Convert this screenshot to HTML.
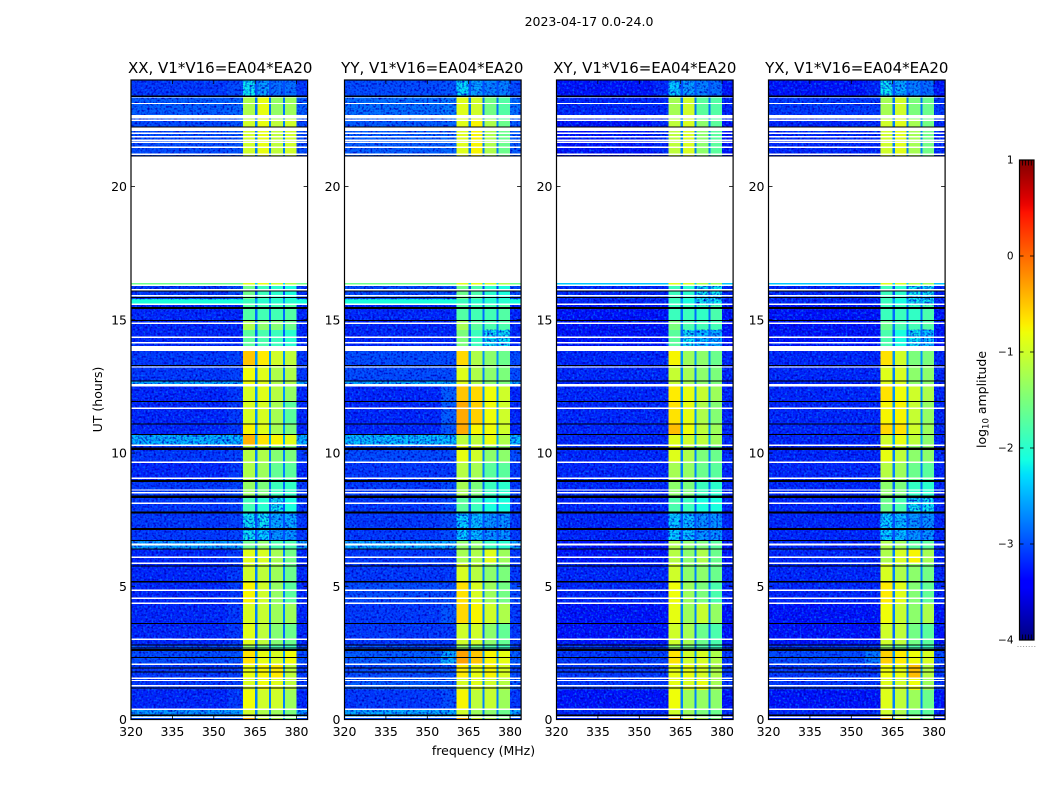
<!DOCTYPE html>
<html lang="en">
<head>
<meta charset="utf-8">
<title>2023-04-17 amplitude waterfall</title>
<style>
html,body{margin:0;padding:0;background:#fff;}
svg{display:block;}
text{font-family:"DejaVu Sans","Liberation Sans",sans-serif;fill:#000;}
</style>
</head>
<body>
<svg id="fig" xmlns="http://www.w3.org/2000/svg" width="1050" height="800" viewBox="0 0 1050 800">
  <defs>
    <filter id="speckle-a" x="0" y="0" width="1" height="1" color-interpolation-filters="sRGB">
      <feTurbulence type="fractalNoise" baseFrequency="0.48" numOctaves="1" seed="3" result="n"/>
      <feColorMatrix in="n" type="matrix" values="0 0 0 0 0  0 0 0 0 0.42  0 0 0 0 1  3.2 0 0 0 -1.6" result="light"/>
      <feColorMatrix in="n" type="matrix" values="0 0 0 0 0  0 0 0 0 0  0 0 0 0 0.75  0 3.2 0 0 -1.45" result="dark"/>
      <feMerge><feMergeNode in="dark"/><feMergeNode in="light"/></feMerge>
    </filter>
    <linearGradient id="cbar-gradient" x1="0" y1="1" x2="0" y2="0"></linearGradient>
  </defs>
  <text x="589" y="26" font-size="12.5" text-anchor="middle">2023-04-17 0.0-24.0</text>
  <text x="0" y="0" font-size="12.5" text-anchor="middle" transform="translate(102 399.5) rotate(-90)">UT (hours)</text>
  <text x="483.5" y="755" font-size="12.5" text-anchor="middle">frequency (MHz)</text>
  <text x="0" y="0" font-size="12.5" text-anchor="middle" transform="translate(986 399.5) rotate(-90)">log<tspan font-size="8.5" dy="2.5">10</tspan><tspan dy="-2.5"> amplitude</tspan></text>
</svg>
<script>
// ---- Data ----
const panelTitles = ["XX, V1*V16=EA04*EA20", "YY, V1*V16=EA04*EA20", "XY, V1*V16=EA04*EA20", "YX, V1*V16=EA04*EA20"];
const xTickLabels = [320, 335, 350, 365, 380];
const yTickLabels = [0, 5, 10, 15, 20];
const cbarTickLabels = [1, 0, -1, -2, -3, -4];

// Frequency segments (MHz): background, band-edge background, then four bands separated by gaps
const freqEdges = [320, 355, 360.5, 365, 365.9, 370, 370.8, 375, 375.9, 380, 384];
// Which column of a level row feeds each segment (-1 = gap level)
const segmentColumns = [0, 1, 2, -1, 3, -1, 4, -1, 5, 0];
// Time blocks, hours, top to bottom
const hourEdges = [24, 23.4, 22.53, 21.14, 16.39, 16.32, 15.78, 15.55, 14.99, 14.62, 14.01, 13.26, 12.70, 12.57, 11.95, 11.09, 10.71, 10.30, 9.66, 8.99, 8.35, 7.79, 7.15, 6.70, 6.40, 5.87, 5.16, 4.37, 3.62, 2.80, 2.57, 2.05, 1.56, 1.11, 0.39, 0.09, 0];
const gapLevels = [-3.0, -2.8, -2.75, null, -2.3, -3.0, -2.6, -2.85, -2.75, -2.9, -2.65, -2.75, -2.75, -2.65, -2.65, -2.65, -2.55, -2.75, -2.75, -2.85, -2.95, -3.0, -3.0, -2.75, -2.75, -2.75, -2.75, -2.75, -2.85, -2.9, -2.65, -2.65, -2.65, -2.75, -2.75, -2.65];

// log10 amplitude rows: [background, band-edge background, band1, band2, band3, band4]
const xxLevels = [
  [-3.1,-3.0,-2.2,-2.55,-2.8,-2.8],[-2.9,-2.85,-1.2,-.85,-1.35,-1.3],[-3.0,-2.95,-1.0,-.85,-1.1,-1.0],null,
  [-1.6,-1.6,-.9,-.85,-1.0,-1.2],[-3.1,-3.0,-1.6,-1.9,-2.0,-2.1],[-2.1,-2.1,-1.9,-2.0,-2.0,-2.0],[-3.2,-3.2,-1.75,-1.85,-1.85,-1.75],
  [-3.2,-3.2,-1.2,-1.4,-1.45,-1.6],[-3.2,-3.2,-1.7,-1.8,-1.9,-2.0],[-3.1,-3.05,-.5,-.7,-1.0,-1.1],[-3.1,-3.05,-.8,-.9,-1.2,-1.2],
  [-2.5,-2.5,-.8,-.9,-1.2,-1.2],[-3.2,-3.1,-.95,-.9,-1.15,-1.35],[-3.2,-3.1,-.95,-.95,-1.25,-1.7],[-3.2,-3.1,-.75,-.9,-1.25,-1.5],
  [-2.45,-2.45,-.4,-.65,-.75,-.9],[-3.1,-3.05,-1.15,-1.2,-1.45,-1.5],[-3.2,-3.1,-1.2,-1.3,-1.65,-1.7],[-3.1,-3.05,-1.35,-1.5,-1.9,-1.95],
  [-3.1,-3.05,-1.85,-2.0,-2.2,-2.1],[-3.1,-3.05,-2.2,-2.2,-2.5,-2.5],[-3.1,-3.05,-2.2,-2.3,-2.6,-2.6],[-2.55,-2.55,-1.6,-1.4,-1.8,-1.8],
  [-3.2,-3.1,-.9,-.95,-1.25,-1.55],[-3.2,-3.1,-1.0,-1.1,-1.3,-1.6],[-3.2,-3.1,-.75,-1.0,-1.35,-1.7],[-3.2,-3.1,-.95,-1.05,-1.3,-1.3],
  [-3.2,-3.1,-.9,-1.1,-1.45,-1.6],[-3.0,-3.0,-1.4,-1.6,-1.8,-1.9],[-3.0,-2.95,-.65,-.85,-.95,-.8],[-3.1,-3.05,-.85,-.75,-.7,-1.1],
  [-3.1,-3.05,-.95,-.8,-.9,-1.1],[-3.2,-3.1,-.8,-1.0,-1.0,-1.3],[-2.6,-2.6,-1.0,-1.2,-1.3,-1.5],[-3.0,-3.0,-.4,-1.0,-1.2,-1.5]
];
const yyLevels = [
  [-3.0,-2.95,-2.25,-2.55,-2.7,-2.7],[-2.8,-2.75,-.9,-1.0,-1.55,-1.75],[-2.9,-2.85,-.9,-.75,-1.2,-1.6],null,
  [-1.6,-1.6,-.9,-.85,-1.0,-1.2],[-3.0,-3.0,-1.6,-1.8,-2.0,-2.1],[-2.1,-2.1,-1.9,-2.0,-2.0,-2.0],[-3.2,-3.2,-1.75,-1.85,-1.85,-1.75],
  [-3.2,-3.2,-1.25,-1.7,-1.8,-1.8],[-3.2,-3.2,-1.5,-1.9,-2.2,-2.2],[-3.0,-3.0,-.6,-1.2,-1.4,-1.6],[-3.0,-3.0,-.9,-1.2,-1.4,-1.5],
  [-2.5,-2.5,-.9,-1.2,-1.4,-1.5],[-3.2,-2.9,-.5,-.6,-.8,-1.0],[-3.2,-2.9,-.35,-.55,-.8,-1.0],[-3.2,-2.95,-.35,-.75,-.8,-1.0],
  [-2.4,-2.4,-1.1,-1.1,-.85,-1.2],[-3.0,-3.0,-.85,-1.0,-1.4,-1.4],[-3.1,-3.1,-1.15,-1.25,-1.7,-1.7],[-3.1,-3.0,-1.25,-1.5,-1.9,-2.0],
  [-3.1,-3.0,-1.7,-1.9,-2.1,-2.1],[-3.1,-3.0,-2.3,-2.4,-2.6,-2.6],[-3.1,-3.0,-2.3,-2.4,-2.6,-2.6],[-2.5,-2.5,-1.4,-1.4,-1.9,-2.0],
  [-3.1,-3.1,-1.25,-1.2,-.9,-1.3],[-3.1,-3.1,-.95,-1.15,-1.4,-1.5],[-3.0,-3.0,-.65,-.95,-1.3,-1.55],[-3.1,-2.95,-.6,-.75,-1.0,-1.2],
  [-3.1,-3.1,-1.0,-1.0,-1.4,-1.65],[-3.0,-3.0,-1.4,-1.6,-1.8,-1.9],[-2.9,-2.5,-.3,-.5,-.75,-.85],[-3.0,-2.95,-.7,-.85,-.75,-.95],
  [-2.9,-2.9,-.95,-.9,-1.0,-1.15],[-3.1,-3.0,-.75,-1.1,-1.05,-1.3],[-2.5,-2.5,-1.0,-1.3,-1.4,-1.6],[-3.0,-3.0,-.4,-1.0,-1.2,-1.5]
];
const xyLevels = [
  [-3.3,-3.2,-2.35,-2.55,-2.7,-2.8],[-3.2,-3.2,-1.25,-1.0,-1.7,-1.75],[-3.3,-3.2,-1.1,-.95,-1.4,-1.7],null,
  [-2.4,-2.4,-.9,-.95,-1.2,-1.3],[-3.2,-3.2,-1.9,-2.0,-2.2,-2.2],[-3.2,-3.2,-1.9,-2.1,-2.2,-2.2],[-3.3,-3.3,-1.9,-1.9,-1.95,-1.8],
  [-3.3,-3.3,-1.5,-1.8,-1.85,-1.85],[-3.3,-3.3,-1.7,-2.2,-2.4,-2.5],[-3.2,-3.2,-.75,-1.3,-1.4,-1.6],[-3.2,-3.2,-1.05,-1.25,-1.4,-1.5],
  [-3.2,-3.2,-1.05,-1.25,-1.4,-1.5],[-3.2,-3.2,-.7,-.85,-1.05,-1.3],[-3.2,-3.2,-.65,-.85,-1.2,-1.45],[-3.2,-3.2,-.45,-.8,-1.1,-1.3],
  [-3.2,-3.2,-.9,-1.0,-1.1,-1.3],[-3.2,-3.2,-.9,-1.2,-1.5,-1.6],[-3.2,-3.2,-1.25,-1.35,-1.6,-1.7],[-3.2,-3.2,-1.4,-1.5,-1.9,-2.0],
  [-3.2,-3.2,-1.8,-1.9,-2.1,-2.1],[-3.2,-3.2,-2.3,-2.4,-2.6,-2.6],[-3.2,-3.2,-2.3,-2.4,-2.6,-2.6],[-3.3,-3.3,-1.2,-1.4,-1.5,-1.7],
  [-3.3,-3.3,-1.15,-1.4,-1.2,-1.6],[-3.2,-3.2,-1.0,-1.4,-1.4,-1.6],[-3.2,-3.2,-.8,-1.3,-1.5,-1.8],[-3.3,-3.3,-.85,-1.3,-1.05,-1.35],
  [-3.3,-3.3,-1.0,-1.25,-1.6,-1.8],[-3.1,-3.1,-1.4,-1.6,-1.8,-1.9],[-3.1,-3.05,-.65,-1.0,-.95,-1.2],[-3.1,-3.1,-.85,-.85,-.95,-1.2],
  [-3.1,-3.1,-.85,-.95,-.85,-1.25],[-3.3,-3.3,-.8,-1.3,-1.35,-1.4],[-3.2,-3.2,-1.0,-1.3,-1.5,-1.6],[-3.2,-3.2,-.4,-1.0,-1.2,-1.5]
];
const yxLevels = [
  [-3.3,-3.2,-2.2,-2.5,-2.7,-2.8],[-3.1,-3.1,-1.25,-1.0,-1.5,-1.6],[-3.2,-3.2,-1.0,-.9,-1.25,-1.55],null,
  [-2.4,-2.4,-.9,-.95,-1.2,-1.3],[-3.2,-3.2,-1.9,-2.0,-2.2,-2.2],[-3.2,-3.2,-1.9,-2.1,-2.2,-2.2],[-3.3,-3.3,-1.9,-1.9,-1.95,-1.8],
  [-3.3,-3.3,-1.6,-1.8,-1.85,-1.75],[-3.3,-3.3,-1.8,-2.1,-2.2,-2.4],[-3.2,-3.2,-.65,-1.0,-1.5,-1.5],[-3.2,-3.2,-.9,-.95,-1.4,-1.4],
  [-3.2,-3.2,-.9,-.95,-1.4,-1.4],[-3.2,-3.2,-.65,-.8,-1.0,-1.2],[-3.2,-3.2,-.75,-.75,-1.05,-1.35],[-3.2,-3.2,-.6,-.65,-1.0,-1.3],
  [-3.2,-3.2,-1.0,-.85,-1.1,-1.4],[-3.2,-3.2,-.85,-1.1,-1.4,-1.4],[-3.2,-3.2,-1.15,-1.3,-1.6,-1.7],[-3.2,-3.2,-1.4,-1.5,-1.95,-2.0],
  [-3.2,-3.2,-1.6,-1.8,-2.2,-2.2],[-3.2,-3.2,-2.3,-2.4,-2.6,-2.6],[-3.2,-3.2,-2.3,-2.4,-2.6,-2.6],[-3.2,-3.2,-1.2,-1.3,-1.7,-1.7],
  [-3.2,-3.2,-1.2,-.95,-.75,-1.25],[-3.2,-3.2,-.95,-1.2,-1.4,-1.55],[-3.2,-3.2,-.7,-.9,-1.45,-1.65],[-3.3,-3.3,-.8,-1.05,-1.4,-1.2],
  [-3.3,-3.3,-1.0,-1.1,-1.55,-1.7],[-3.1,-3.1,-1.4,-1.6,-1.8,-1.9],[-3.0,-2.75,-.55,-.7,-.8,-.95],[-3.1,-3.1,-.8,-.85,-.45,-1.15],
  [-3.1,-3.1,-.9,-1.0,-.8,-1.3],[-3.3,-3.3,-.9,-1.1,-1.3,-1.6],[-3.2,-3.2,-1.0,-1.2,-1.6,-1.7],[-3.2,-3.2,-.4,-1.0,-1.2,-1.5]
];
const panelLevels = [xxLevels, yyLevels, xyLevels, yxLevels];

// Flagged integrations (hours): thin white/black rules and thicker ones
const whiteLines = [23.36, 23.12, 22.00, 21.87, 21.74, 21.66, 21.47, 21.21, 16.30, 16.13, 15.90, 15.58, 14.87, 14.34, 14.14, 13.23, 11.68, 10.29, 9.65, 9.05, 8.61, 8.51, 8.11, 6.09, 5.86, 4.85, 4.55, 4.36, 3.01, 2.07, 1.27, 0.38, 0.08];
const whiteBands = [[22.68, 22.55], [22.51, 22.46], [22.21, 22.09], [14.01, 13.83], [12.59, 12.49], [6.60, 6.53], [1.58, 1.52], [1.49, 1.44]];
const blackLines = [23.39, 22.23, 21.14, 16.08, 15.84, 14.98, 13.29, 12.71, 11.94, 11.09, 10.70, 6.71, 6.40, 5.76, 5.17, 3.61, 2.80, 2.69, 2.33, 1.94, 1.79, 1.19, 0.16];
const blackBands = [15.45, 10.16, 8.95, 8.36, 7.77, 7.15, 2.61];

// ---- Layout and axis functions ----
const SVGNS = "http://www.w3.org/2000/svg";
const fig = document.getElementById("fig");
const panelLefts = [131, 344.5, 556.5, 768.5];
const titleCenters = [220.2, 432.3, 644.8, 856.8];
const panelWidth = 176.6;
const plotTop = 80, plotBottom = 719.5;
const FMIN = 320, FMAX = 384, HMIN = 0, HMAX = 24;
const cbarLeft = 1019.5, cbarRight = 1034, cbarTop = 160, cbarBottom = 640, VMIN = -4, VMAX = 1;
const NOISY_BELOW = -2.2;

function xScale(left, mhz) { return left + (mhz - FMIN) / (FMAX - FMIN) * panelWidth; }
function yScale(hour) { return plotBottom - (hour - HMIN) / (HMAX - HMIN) * (plotBottom - plotTop); }
function cbarY(v) { return cbarBottom - (v - VMIN) / (VMAX - VMIN) * (cbarBottom - cbarTop); }

function interp(knots, t) {
  for (let i = 1; i < knots.length; i++) {
    if (t <= knots[i][0]) {
      const a = knots[i - 1], b = knots[i];
      return a[1] + (b[1] - a[1]) * (t - a[0]) / (b[0] - a[0]);
    }
  }
  return knots[knots.length - 1][1];
}
const jetR = [[0, 0], [.35, 0], [.66, 1], [.89, 1], [1, .5]];
const jetG = [[0, 0], [.125, 0], [.375, 1], [.64, 1], [.91, 0], [1, 0]];
const jetB = [[0, .5], [.11, 1], [.34, 1], [.65, 0], [1, 0]];
function jet(v) {
  const t = Math.min(1, Math.max(0, (v - VMIN) / (VMAX - VMIN)));
  return "rgb(" + Math.round(255 * interp(jetR, t)) + "," + Math.round(255 * interp(jetG, t)) + "," + Math.round(255 * interp(jetB, t)) + ")";
}
function mk(tag, geometry, parent) {
  const el = document.createElementNS(SVGNS, tag);
  for (const k in geometry) el.setAttribute(k, geometry[k]);
  parent.appendChild(el);
  return el;
}
function fmt(n) { return n < 0 ? "\u2212" + Math.abs(n) : String(n); }

// ---- Panels ----
panelTitles.forEach(function (title, p) {
  const left = panelLefts[p], right = left + panelWidth;
  const levels = panelLevels[p];
  const g = mk("g", {}, fig);
  
  

  // Heatmap cells
  const cells = mk("g", { "shape-rendering": "crispEdges" }, g);
  
  
  const noise = mk("g", {}, g);
  
  
  levels.forEach(function (row, r) {
    if (!row) return;
    segmentColumns.forEach(function (col, s) {
      const v = col < 0 ? gapLevels[r] : row[col];
      const x0 = xScale(left, freqEdges[s]), x1 = xScale(left, freqEdges[s + 1]);
      const y0 = yScale(hourEdges[r]), y1 = yScale(hourEdges[r + 1]);
      const cell = mk("rect", { x: x0, y: y0, width: x1 - x0, height: y1 - y0, fill: jet(v) }, cells);
      
      
      // Faint cells show receiver noise in the reference; this overlay is texture only
      if (col >= 0 && v <= NOISY_BELOW && y1 - y0 > 3) {
        const sp = mk("rect", { x: x0, y: y0, width: x1 - x0, height: y1 - y0, fill: "#000", filter: "url(#speckle-a)" }, noise);
        
        
      }
    });
  });

  // Flagged integrations
  const flags = mk("g", { "shape-rendering": "crispEdges" }, g);
  
  
  whiteLines.forEach(function (h) {
    const line = mk("rect", { x: left, y: yScale(h + 0.025), width: panelWidth, height: yScale(h - 0.025) - yScale(h + 0.025), fill: "#fff" }, flags);
    
    
  });
  whiteBands.forEach(function (b) {
    const band = mk("rect", { x: left, y: yScale(b[0]), width: panelWidth, height: yScale(b[1]) - yScale(b[0]), fill: "#fff" }, flags);
    
    
  });
  blackLines.forEach(function (h) {
    const line = mk("rect", { x: left, y: yScale(h + 0.02), width: panelWidth, height: yScale(h - 0.02) - yScale(h + 0.02), fill: "#000" }, flags);
    
    
  });
  blackBands.forEach(function (h) {
    const band = mk("rect", { x: left, y: yScale(h + 0.04), width: panelWidth, height: yScale(h - 0.04) - yScale(h + 0.04), fill: "#000" }, flags);
    
    
  });

  // Frame
  const frame = mk("rect", { x: left, y: plotTop, width: panelWidth, height: plotBottom - plotTop, fill: "none", stroke: "#000", "stroke-width": 1.2 }, g);
  
  

  // Title
  const t = mk("text", { x: titleCenters[p], y: 73, "font-size": 15, "text-anchor": "middle" }, g);
  t.textContent = title;
  
  

  // X ticks
  xTickLabels.forEach(function (f) {
    const x = xScale(left, f);
    [[plotBottom, plotBottom - 4], [plotTop, plotTop + 4]].forEach(function (e) {
      const tick = mk("line", { x1: x, x2: x, y1: e[0], y2: e[1], stroke: "#000", "stroke-width": 0.8 }, g);
      
      
    });
    const lab = mk("text", { x: x, y: 736, "font-size": 12.5, "text-anchor": "middle" }, g);
    lab.textContent = f;
    
    
  });

  // Y ticks
  yTickLabels.forEach(function (h) {
    const y = yScale(h);
    [[left, left + 4], [right, right - 4]].forEach(function (e) {
      const tick = mk("line", { x1: e[0], x2: e[1], y1: y, y2: y, stroke: "#000", "stroke-width": 0.8 }, g);
      
      
    });
    const lab = mk("text", { x: left - 4, y: y + 4.5, "font-size": 12.5, "text-anchor": "end" }, g);
    lab.textContent = h;
    
    
  });
});

// ---- Colorbar ----
const grad = document.getElementById("cbar-gradient");
for (let i = 0; i <= 64; i++) {
  const stop = mk("stop", { offset: (i / 64), "stop-color": jet(VMIN + (VMAX - VMIN) * i / 64) }, grad);
}
const cbar = mk("g", {}, fig);


const ramp = mk("rect", { x: cbarLeft, y: cbarTop, width: cbarRight - cbarLeft, height: cbarBottom - cbarTop, fill: "url(#cbar-gradient)", stroke: "#000", "stroke-width": 1.2 }, cbar);


cbarTickLabels.forEach(function (v) {
  const y = cbarY(v);
  if (v > VMIN && v < VMAX) {
    [[cbarLeft, cbarLeft + 4], [cbarRight, cbarRight - 4]].forEach(function (e) {
      const tick = mk("line", { x1: e[0], x2: e[1], y1: y, y2: y, stroke: "#000", "stroke-width": 0.8 }, cbar);
      
      
    });
  }
  const lab = mk("text", { x: 1013.5, y: y + 3.5, "font-size": 10.5, "text-anchor": "end" }, cbar);
  lab.textContent = fmt(v);
  
  
});
for (let i = 1; i <= 4; i++) {
  const x = cbarLeft + i * (cbarRight - cbarLeft) / 5 + 0.2;
  [[cbarTop, cbarTop + 5.5], [cbarBottom, cbarBottom - 5.5]].forEach(function (e) {
    const tick = mk("line", { x1: x, x2: x, y1: e[0], y2: e[1], stroke: "#000", "stroke-width": 0.8 }, cbar);
    
    
  });
}
for (let i = 0; i < 7; i++) {
  const dot = mk("rect", { x: 1017.5 + i * 2.8, y: 646, width: 1, height: 1, fill: "#999" }, cbar);
  
  
}
</script>
</body>
</html>
